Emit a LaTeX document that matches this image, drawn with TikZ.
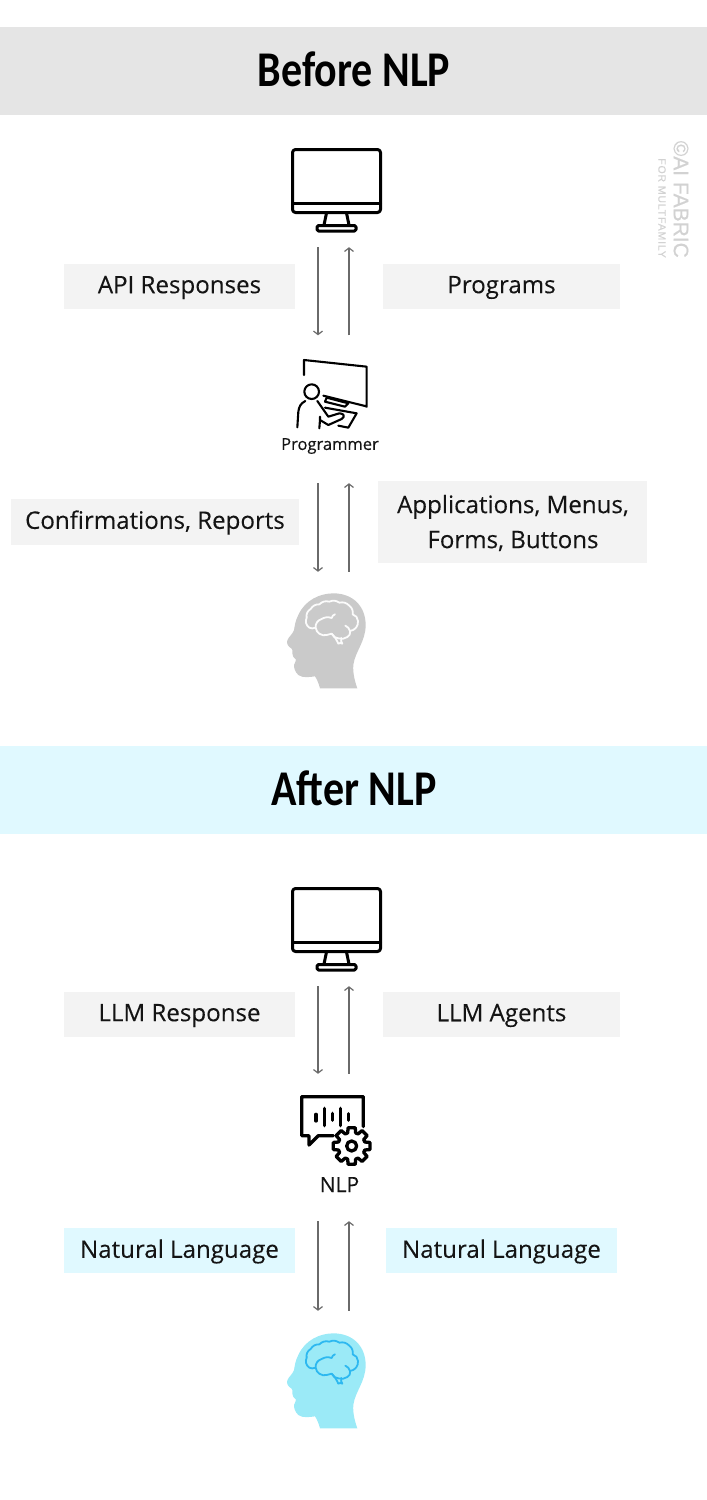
\documentclass[tikz,border=0pt]{standalone}
\usepackage{fontspec}
\setmainfont{Open Sans}
\newfontfamily\titlefont{Carlito}
\newfontfamily\markfont{Liberation Sans}
\usetikzlibrary{arrows.meta}
\definecolor{bannergray}{HTML}{E5E5E5}
\definecolor{bannerblue}{HTML}{E0F9FF}
\definecolor{chipgray}{HTML}{F3F3F3}
\definecolor{headgray}{HTML}{CACACA}
\definecolor{headblue}{HTML}{9BEAF7}
\definecolor{brainblue}{HTML}{2DB8F0}
\definecolor{arrowgray}{HTML}{6A6A6A}
\definecolor{markgray}{HTML}{D2D2D2}
\tikzset{
  banner/.style={fill=#1,draw=none,minimum width=707pt,minimum height=88pt,inner sep=0pt},
  titletext/.style={font=\titlefont\bfseries\fontsize{50}{54}\selectfont,text=black,inner sep=0pt,xscale=0.84},
  chip/.style={draw=none,inner sep=0pt,align=center,yshift=-2.5pt,font=\addfontfeature{FakeBold=0.15}\fontsize{24.1}{35}\selectfont,text=black!92},
  holder/.style={draw=none,inner sep=0pt,minimum width=60pt},
  arr/.style={draw=arrowgray,line width=1.3pt,-{Straight Barb[length=3.5pt,width=9pt,line width=1.2pt]}},
  iconline/.style={draw=black,line width=3pt,line join=round,line cap=round},
  nlpline/.style={draw=black,line width=3.3pt,line join=round,line cap=round},
  thinicon/.style={draw=black,line width=2.1pt,line join=round,line cap=round},
}
\newcommand{\monitoricon}[1]{%
  \begin{scope}[yshift=-#1pt]
    \draw[iconline,rounded corners=3pt] (292.5,149.5) rectangle (380.5,212.5);
    \draw[iconline] (292.5,203.5) -- (380.5,203.5);
    \draw[iconline] (326.5,213) -- (324,225) (346.5,213) -- (349,225);
    \draw[iconline,rounded corners=1.5pt] (317,225.5) rectangle (356,231);
  \end{scope}}
\newcommand{\headicon}[4]{%
  \begin{scope}[shift={(#1,#2)},x=0.3333pt,y=-0.3333pt]
    \fill[#3] (150,310) .. controls (146,295) and (142,285) .. (135,274)
      .. controls (120,276) and (98,280) .. (85,270)
      .. controls (74,260) and (72,248) .. (72,240)
      .. controls (72,232) and (80,230) .. (78,224)
      .. controls (72,218) and (65,212) .. (67,205)
      .. controls (68,198) and (68,192) .. (64,190)
      .. controls (56,186) and (48,176) .. (52,166)
      .. controls (56,155) and (70,145) .. (72,135)
      .. controls (75,118) and (76,108) .. (85,90)
      .. controls (105,45) and (150,25) .. (190,25)
      .. controls (250,25) and (287,65) .. (287,120)
      .. controls (287,170) and (255,200) .. (250,240)
      .. controls (248,265) and (255,290) .. (262,310) -- cycle;
    \begin{scope}[draw=#4,line width=1.8pt,line cap=round,line join=round]
      \draw (136,128) to[bend left=25] (118,128) to[bend left=40] (110,98) to[bend left=35] (122,72) to[bend left=30] (148,58) to[bend left=30] (178,50) to[bend left=30] (208,53) to[bend left=30] (238,62) to[bend left=30] (248,88) to[bend left=35] (264,108) to[bend left=45] (240,138);
      \draw (195,88) to[bend right=30] (185,99) to[bend right=25] (155,102) to[bend right=40] (137,128) to[bend right=50] (170,150) to[bend right=10] (185,146) to[bend right=30] (205,160) to[bend right=25] (232,156) to[bend right=40] (240,138) to[bend right=25] (226,122);
      \draw (185,146) to[bend left=10] (205,176) to[bend left=40] (217,176) to[bend left=25] (214,159);
    \end{scope}
  \end{scope}}
\begin{document}
\begin{tikzpicture}[x=1pt,y=-1pt]
\useasboundingbox (0,0) rectangle (707,1500);

% banners
\node[banner=bannergray] (bannerA) at (353.5,71) {};
\node[titletext] (titleA) at (354,69) {Before NLP};
\node[banner=bannerblue] (bannerB) at (353.5,790) {};
\node[titletext] (titleB) at (354,788) {After NLP};

% watermark
\node[rotate=-90,anchor=east,inner sep=0pt,text=markgray,font=\markfont\addfontfeature{FakeBold=0.6}\fontsize{21}{23}\selectfont] (markA) at (681,258) {©AI FABRIC};
\node[rotate=-90,anchor=east,inner sep=0pt,text=markgray,font=\markfont\addfontfeature{LetterSpace=8,FakeBold=0.4}\fontsize{10.5}{12}\selectfont] (markB) at (662,258) {FOR MULTFAMILY};

% invisible holders the connectors run between
\node[holder,minimum height=99pt] (mon1) at (333.5,197.5) {};
\node[holder,minimum height=147.5pt] (prog) at (333.5,409.25) {};
\node[holder,minimum height=117pt] (head1) at (333.5,630.5) {};
\node[holder,minimum height=99pt] (mon2) at (333.5,936.5) {};
\node[holder,minimum height=147pt] (nlp) at (333.5,1147.5) {};
\node[holder,minimum height=117pt] (head2) at (333.5,1369.5) {};

% connectors
\draw[arr] ([xshift=-15.5pt]mon1.south) -- ([xshift=-15.5pt]prog.north);
\draw[arr] ([xshift=15.5pt]prog.north) -- ([xshift=15.5pt]mon1.south);
\draw[arr] ([xshift=-15.5pt]prog.south) -- ([xshift=-15.5pt]head1.north);
\draw[arr] ([xshift=15.5pt]head1.north) -- ([xshift=15.5pt]prog.south);
\draw[arr] ([xshift=-15.5pt]mon2.south) -- ([xshift=-15.5pt]nlp.north);
\draw[arr] ([xshift=15.5pt]nlp.north) -- ([xshift=15.5pt]mon2.south);
\draw[arr] ([xshift=-15.5pt]nlp.south) -- ([xshift=-15.5pt]head2.north);
\draw[arr] ([xshift=15.5pt]head2.north) -- ([xshift=15.5pt]nlp.south);

% chips
\fill[chipgray] (64,264) rectangle (295,308.5);
\node[chip] (apiresp) at (179.5,285) {API Responses};
\fill[chipgray] (383,264) rectangle (620,308.5);
\node[chip] (programs) at (501.5,285) {Programs};
\fill[chipgray] (11,499) rectangle (299,544.5);
\node[chip] (confirm) at (155,520) {Confirmations, Reports};
\fill[chipgray] (378,481) rectangle (647,562.5);
\node[chip] (apps) at (513,520.5) {Applications, Menus,\\Forms, Buttons};
\fill[chipgray] (64,992) rectangle (295,1036.5);
\node[chip] (llmresp) at (179.5,1013) {LLM Response};
\fill[chipgray] (383,992) rectangle (620,1036.5);
\node[chip] (llmagents) at (501.5,1013) {LLM Agents};
\fill[bannerblue] (64,1228) rectangle (295,1272.5);
\node[chip] (natL) at (179.5,1249) {Natural Language};
\fill[bannerblue] (386,1228) rectangle (617,1272.5);
\node[chip] (natR) at (501.5,1249) {Natural Language};

% monitors
\monitoricon{0}
\monitoricon{739}

% programmer icon
\begin{scope}[shift={(270,350)},x=0.3333pt,y=-0.3333pt]
  \draw[thinicon] (102,75) -- (102,30) -- (290,50) -- (290,170) -- (285,168) -- (160,137);
  \draw[thinicon] (125,125) circle (22);
  \draw[thinicon] (82,232) -- (85,185) .. controls (87,170) and (92,160) .. (106,153);
  \draw[thinicon] (142,153) -- (175,200) -- (208,190) .. controls (222,190) and (226,200) .. (215,207) -- (175,225) -- (150,210) -- (150,200);
  \draw[thinicon] (150,210) -- (148,235);
  \draw[thinicon] (170,143) -- (235,160) -- (225,170) -- (165,155) -- cycle;
  \draw[thinicon] (165,173) -- (260,190) -- (235,233) -- (205,227);
\end{scope}
\node[inner sep=0pt,font=\addfontfeature{FakeBold=0.4}\fontsize{16.5}{18}\selectfont,text=black!92] (proglabel) at (330,446) {Programmer};

% NLP icon
\begin{scope}[shift={(285,1085)},x=0.3333pt,y=-0.3333pt]
  \draw[nlpline] (145,152) -- (100,152) -- (72,180) -- (72,152) -- (50,152) -- (50,35) -- (235,35) -- (235,125);
  \draw[nlpline] (93,88) -- (93,108) (118,70) -- (118,122) (143,85) -- (143,106) (166,70) -- (166,122) (191,86) -- (191,106);
  \begin{scope}[shift={(200,183)}]
    \draw[nlpline,fill=white] (-11:56) \foreach \a in {0,45,...,315} { -- (\a-11:56) -- (\a+11:56) -- (\a+17:41) -- (\a+28:41) } -- cycle;
    \draw[nlpline] (0,0) circle (15);
  \end{scope}
\end{scope}
\node[inner sep=0pt,font=\addfontfeature{FakeBold=0.15}\fontsize{21}{24}\selectfont,text=black!92] (nlplabel) at (339.5,1184.5) {NLP};

% heads
\headicon{270}{585}{headgray}{white!92!headgray}
\headicon{270}{1325}{headblue}{brainblue}
\end{tikzpicture}
\end{document}
